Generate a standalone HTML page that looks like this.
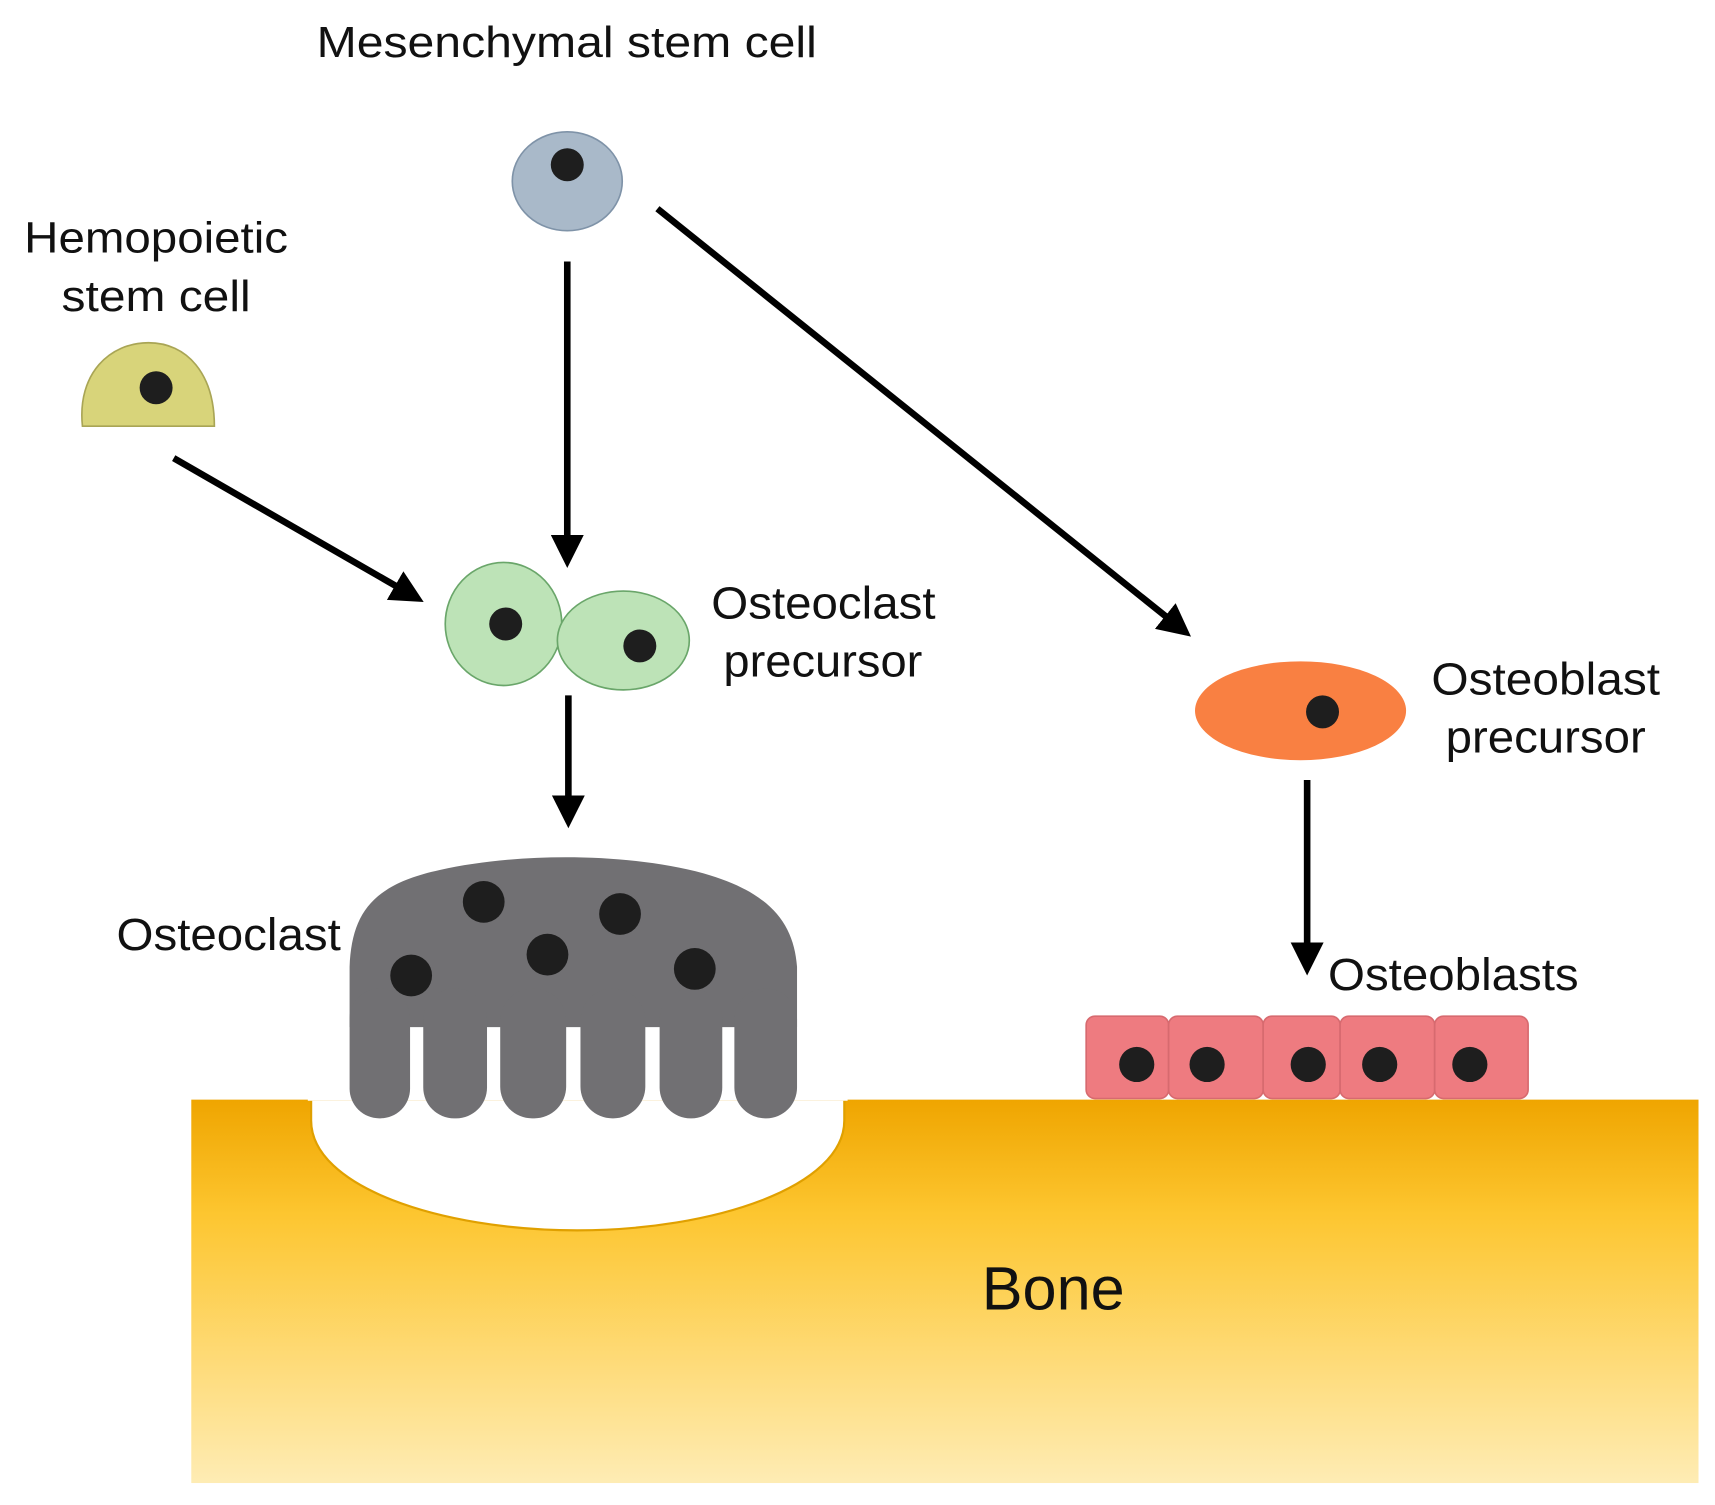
<!DOCTYPE html>
<html><head><meta charset="utf-8"><style>
html,body{margin:0;padding:0;background:#fff;}
svg{display:block;}
text{font-family:"Liberation Sans",Arial,sans-serif;fill:#111;}
</style></head><body>
<svg width="1715" height="1505" viewBox="0 0 1560 1370" preserveAspectRatio="none" xmlns="http://www.w3.org/2000/svg">
<defs>
<linearGradient id="bone" x1="0" y1="0" x2="0" y2="1">
<stop offset="0" stop-color="#efa500"/>
<stop offset="0.3" stop-color="#fdc630"/>
<stop offset="1" stop-color="#feecb4"/>
</linearGradient>
<marker id="ah" markerWidth="5" markerHeight="5" refX="3" refY="2.5" orient="auto" markerUnits="strokeWidth">
<path d="M0,0 L5,2.5 L0,5 Z" fill="#000"/>
</marker>
</defs>
<!-- bone -->
<rect x="174" y="1001" width="1371" height="349" fill="url(#bone)"/>
<path d="M283,1001 L283,1020 C283,1080 400,1120 525,1120 C650,1120 768,1080 768,1020 L768,1001 Z" fill="#fff" stroke="#e0a000" stroke-width="2"/>
<rect x="280" y="995" width="491" height="7" fill="#fff"/>
<text x="893" y="1192" font-size="56" textLength="130" lengthAdjust="spacingAndGlyphs">Bone</text>

<!-- labels -->
<text x="288" y="52" font-size="40" textLength="455" lengthAdjust="spacingAndGlyphs">Mesenchymal stem cell</text>
<text x="22" y="230" font-size="40" textLength="240" lengthAdjust="spacingAndGlyphs">Hemopoietic</text>
<text x="56" y="283" font-size="40" textLength="172" lengthAdjust="spacingAndGlyphs">stem cell</text>
<text x="647" y="563" font-size="41" textLength="204" lengthAdjust="spacingAndGlyphs">Osteoclast</text>
<text x="658" y="616" font-size="41" textLength="181" lengthAdjust="spacingAndGlyphs">precursor</text>
<text x="1302" y="632" font-size="41" textLength="208" lengthAdjust="spacingAndGlyphs">Osteoblast</text>
<text x="1315" y="685" font-size="41" textLength="182" lengthAdjust="spacingAndGlyphs">precursor</text>
<text x="1208" y="901" font-size="41" textLength="228" lengthAdjust="spacingAndGlyphs">Osteoblasts</text>
<text x="106" y="865" font-size="41" textLength="204" lengthAdjust="spacingAndGlyphs">Osteoclast</text>

<!-- MSC -->
<ellipse cx="516" cy="165" rx="50" ry="45" fill="#a9b9c9" stroke="#7f93a8" stroke-width="1.5"/>
<circle cx="516" cy="150" r="15" fill="#1e1e1e"/>
<!-- HSC -->
<path d="M75,388 C70,340 100,312 135,312 C170,312 195,340 195,388 Z" fill="#d8d47a" stroke="#a9a555" stroke-width="1.5"/>
<circle cx="142" cy="353" r="15" fill="#1e1e1e"/>

<!-- arrows -->
<g stroke="#000" stroke-width="6" fill="none">
<line x1="158" y1="417" x2="375" y2="542" marker-end="url(#ah)"/>
<line x1="516" y1="238" x2="516" y2="505" marker-end="url(#ah)"/>
<line x1="598" y1="190" x2="1074" y2="572" marker-end="url(#ah)"/>
<line x1="517" y1="633" x2="517" y2="742" marker-end="url(#ah)"/>
<line x1="1189" y1="710" x2="1189" y2="876" marker-end="url(#ah)"/>
</g>

<!-- osteoclast precursor -->
<ellipse cx="458" cy="568" rx="53" ry="56" fill="#bde3b7" stroke="#6aa66a" stroke-width="1.5"/>
<ellipse cx="567" cy="583" rx="60" ry="45" fill="#bde3b7" stroke="#6aa66a" stroke-width="1.5"/>
<circle cx="460" cy="568" r="15" fill="#1e1e1e"/>
<circle cx="582" cy="588" r="15" fill="#1e1e1e"/>

<!-- osteoblast precursor -->
<ellipse cx="1183" cy="647" rx="96" ry="45" fill="#f98042"/>
<circle cx="1203" cy="648" r="15" fill="#1e1e1e"/>

<!-- osteoblasts -->
<g fill="#ee7b80" stroke="#d76a6f" stroke-width="1.5">
<rect x="988" y="925" width="75" height="75" rx="8"/>
<rect x="1063" y="925" width="86" height="75" rx="8"/>
<rect x="1149" y="925" width="70" height="75" rx="8"/>
<rect x="1219" y="925" width="86" height="75" rx="8"/>
<rect x="1305" y="925" width="85" height="75" rx="8"/>
</g>
<g fill="#1e1e1e">
<circle cx="1034" cy="969" r="16"/><circle cx="1098" cy="969" r="16"/><circle cx="1190" cy="969" r="16"/><circle cx="1255" cy="969" r="16"/><circle cx="1337" cy="969" r="16"/>
</g>

<!-- osteoclast -->
<g fill="#717073">
<path d="M318,935 L318,880 C320,830 340,805 400,792 C470,776 570,776 640,795 C700,812 722,840 725,880 L725,935 Z"/>
<rect x="318" y="900" width="55" height="118" rx="27"/>
<rect x="385" y="900" width="58" height="118" rx="28"/>
<rect x="455" y="900" width="60" height="118" rx="29"/>
<rect x="528" y="900" width="59" height="118" rx="29"/>
<rect x="600" y="900" width="57" height="118" rx="28"/>
<rect x="668" y="900" width="57" height="118" rx="28"/>
</g>
<g fill="#1e1e1e">
<circle cx="440" cy="821" r="19"/><circle cx="564" cy="832" r="19"/><circle cx="498" cy="869" r="19"/><circle cx="374" cy="888" r="19"/><circle cx="632" cy="882" r="19"/>
</g>
</svg>
</body></html>
